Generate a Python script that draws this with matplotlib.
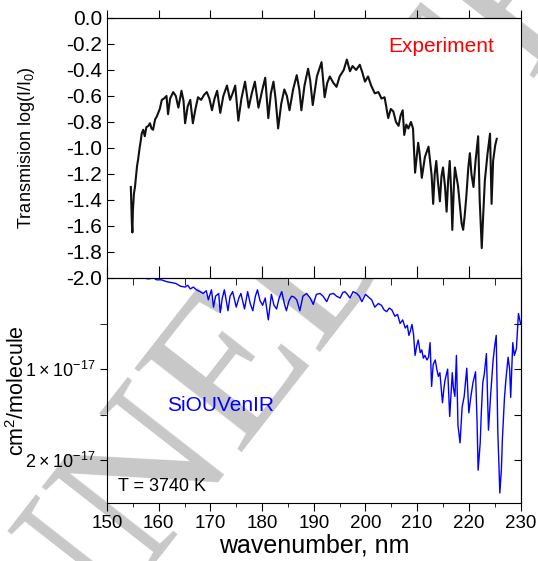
import numpy as np
import matplotlib
matplotlib.use("Agg")
import matplotlib.pyplot as plt
from matplotlib.ticker import MultipleLocator, FixedLocator

plt.rcParams['font.family'] = ['Liberation Sans', 'DejaVu Sans']
plt.rcParams['mathtext.default'] = 'regular'
plt.rcParams['axes.unicode_minus'] = False

# experiment: log(I/I0) vs wavelength (nm)
exp_nm = [154.6, 154.7, 154.8, 154.9, 155.0, 155.2, 155.4, 155.6, 155.8, 156.0,
          156.3, 156.5, 156.7, 157.0, 157.3, 157.6, 158.0, 158.3, 158.6, 158.9,
          159.3, 159.6, 159.9, 160.2, 160.6, 161.0, 161.5, 161.8, 162.2, 162.8,
          163.3, 163.8, 164.4, 164.8, 165.1, 165.6, 166.1, 166.6, 167.1, 167.6,
          168.2, 168.8, 169.3, 169.8, 170.3, 170.8, 171.3, 171.9, 172.5, 173.2,
          173.8, 174.3, 174.8, 175.4, 176.0, 176.7, 177.4, 178.0, 178.6, 179.3,
          180.0, 180.6, 181.2, 181.7, 182.2, 182.6, 183.1, 183.7, 184.3, 184.8,
          185.3, 186.0, 186.7, 187.2, 187.6, 188.2, 188.9, 189.3, 189.8, 190.6,
          191.5, 192.1, 192.6, 193.1, 193.8, 194.4, 195.0, 195.8, 196.4, 197.0,
          197.5, 198.2, 198.9, 199.4, 199.9, 200.5, 201.1, 201.8, 202.5, 203.1,
          203.7, 204.4, 204.9, 205.4, 205.9, 206.4, 206.8, 207.2, 207.5, 207.9,
          208.3, 208.8, 209.2, 209.6, 210.2, 210.5, 210.9, 211.5, 212.2, 212.5,
          212.8, 213.1, 213.4, 213.7, 214.0, 214.4, 214.7, 215.0, 215.4, 215.7,
          216.0, 216.3, 216.6, 216.8, 217.1, 217.3, 217.6, 217.9, 218.3, 218.6,
          218.9, 219.2, 219.5, 219.9, 220.2, 220.5, 220.9, 221.3, 221.8, 222.1,
          222.5, 222.8, 223.1, 223.6, 224.1, 224.4, 224.7, 225.1, 225.4]
exp_val = [-1.30, -1.45, -1.58, -1.65, -1.48, -1.35, -1.30, -1.22, -1.14, -1.09,
           -1.00, -0.95, -0.89, -0.86, -0.91, -0.84, -0.83, -0.81, -0.85, -0.86,
           -0.78, -0.76, -0.73, -0.70, -0.63, -0.62, -0.60, -0.74, -0.62, -0.57,
           -0.60, -0.69, -0.56, -0.64, -0.81, -0.68, -0.63, -0.81, -0.70, -0.61,
           -0.63, -0.59, -0.57, -0.62, -0.71, -0.62, -0.56, -0.73, -0.60, -0.52,
           -0.63, -0.58, -0.52, -0.79, -0.62, -0.49, -0.69, -0.58, -0.49, -0.69,
           -0.56, -0.46, -0.77, -0.58, -0.49, -0.62, -0.85, -0.66, -0.55, -0.60,
           -0.71, -0.55, -0.44, -0.55, -0.71, -0.52, -0.39, -0.48, -0.67, -0.45,
           -0.34, -0.61, -0.50, -0.45, -0.50, -0.53, -0.45, -0.40, -0.32, -0.41,
           -0.37, -0.40, -0.36, -0.42, -0.49, -0.45, -0.52, -0.58, -0.57, -0.62,
           -0.61, -0.77, -0.70, -0.72, -0.80, -0.83, -0.75, -0.71, -0.90, -0.82,
           -0.85, -0.80, -0.85, -1.19, -0.96, -1.05, -1.23, -1.07, -0.99, -1.10,
           -1.21, -1.43, -1.20, -1.10, -1.25, -1.41, -1.22, -1.15, -1.30, -1.49,
           -1.25, -1.10, -1.35, -1.63, -1.30, -1.15, -1.22, -1.29, -1.46, -1.58,
           -1.63, -1.52, -1.38, -1.15, -1.04, -1.20, -1.30, -1.10, -0.91, -1.40,
           -1.77, -1.50, -1.25, -1.05, -0.89, -1.43, -1.10, -0.98, -0.93]

# SiOUVenIR cross section, units of 1e-17 cm2/molecule
sim_nm = [157.0, 158.0, 159.0, 159.6, 160.5, 161.5, 162.4, 163.3, 164.2, 165.1,
          165.6, 166.1, 166.7, 167.3, 168.0, 168.6, 169.2, 169.6, 170.2, 170.6,
          171.0, 171.6, 171.9, 172.3, 172.7, 173.4, 173.8, 174.3, 175.0, 175.5,
          175.9, 176.6, 177.2, 177.7, 178.2, 178.7, 179.1, 179.6, 180.1, 180.6,
          181.2, 181.8, 182.3, 182.8, 183.3, 183.8, 184.3, 184.7, 185.2, 185.7,
          186.2, 186.7, 187.3, 187.9, 188.6, 189.3, 189.9, 190.5, 191.2, 191.8,
          192.5, 193.1, 193.8, 194.4, 195.1, 195.6, 196.0, 196.5, 197.0, 197.6,
          198.3, 198.8, 199.3, 200.0, 200.6, 201.2, 201.8, 202.5, 203.1, 203.6,
          204.1, 204.6, 205.1, 205.7, 206.2, 206.7, 207.2, 207.7, 208.1, 208.4,
          208.7, 209.0, 209.3, 209.6, 209.9, 210.2, 210.6, 210.9, 211.2, 211.5,
          211.9, 212.2, 212.5, 212.8, 213.1, 213.5, 213.8, 214.1, 214.4, 214.9,
          215.2, 215.4, 215.9, 216.3, 216.8, 217.0, 217.3, 217.6, 217.9, 218.3,
          218.7, 219.1, 219.6, 220.0, 220.4, 220.8, 221.3, 221.6, 221.8, 222.2,
          222.4, 222.7, 223.0, 223.4, 223.8, 224.2, 224.7, 225.0, 225.3, 225.6,
          226.0, 226.3, 226.5, 226.9, 227.2, 227.6, 227.9, 228.1, 228.5, 228.8,
          229.2, 229.6, 230.0]
sim_val = [0.00, 0.01, 0.00, 0.02, 0.02, 0.04, 0.05, 0.06, 0.09, 0.10,
           0.08, 0.12, 0.10, 0.13, 0.15, 0.17, 0.14, 0.24, 0.13, 0.32,
           0.20, 0.17, 0.38, 0.22, 0.13, 0.36, 0.20, 0.15, 0.32, 0.22,
           0.17, 0.34, 0.15, 0.28, 0.36, 0.20, 0.13, 0.25, 0.30, 0.22,
           0.46, 0.18, 0.30, 0.34, 0.22, 0.15, 0.28, 0.36, 0.25, 0.20,
           0.21, 0.24, 0.36, 0.20, 0.17, 0.22, 0.29, 0.18, 0.17, 0.20,
           0.26, 0.18, 0.17, 0.20, 0.22, 0.16, 0.15, 0.18, 0.22, 0.15,
           0.17, 0.20, 0.26, 0.18, 0.21, 0.24, 0.32, 0.28, 0.30, 0.35,
           0.37, 0.33, 0.35, 0.42, 0.40, 0.50, 0.46, 0.55, 0.52, 0.63,
           0.58, 0.51, 0.62, 0.85, 0.75, 0.68, 0.82, 0.79, 0.88, 0.85,
           0.90, 0.87, 0.71, 1.19, 0.95, 0.90, 1.00, 1.08, 1.04, 1.37,
           1.20, 1.12, 1.00, 1.52, 1.04, 1.20, 1.30, 0.85, 1.62, 1.81,
           1.42, 1.30, 0.99, 1.48, 1.30, 1.15, 1.03, 1.60, 2.11, 1.81,
           1.50, 1.15, 1.05, 0.83, 1.67, 1.30, 0.90, 0.75, 0.63, 1.67,
           2.36, 2.10, 1.76, 1.31, 1.10, 0.87, 1.00, 1.31, 0.71, 0.85,
           0.78, 0.39, 0.50]

top_ticks = [0.0, -0.2, -0.4, -0.6, -0.8, -1.0, -1.2, -1.4, -1.6, -1.8, -2.0]
x_ticks = [150, 160, 170, 180, 190, 200, 210, 220, 230]

fig = plt.figure(figsize=(5.38, 5.61), dpi=100)
ax1 = fig.add_axes([0.199, 0.5045, 0.7685, 0.4635])
ax2 = fig.add_axes([0.199, 0.1034, 0.7685, 0.4011])
ax1.set_facecolor('white')
ax2.set_facecolor('none')

# faint watermark behind the lower panel
fig.text(0.097, -0.23, 'UNEDITED', fontsize=150, family='Liberation Serif',
         color='#c8c8c8', rotation=52, rotation_mode='anchor',
         ha='left', va='baseline', zorder=-1)

# upper panel
ax1.plot(exp_nm, exp_val, color='#111111', lw=1.5)
ax1.set_xlim(150, 230)
ax1.set_ylim(-2.0, 0.0)
ax1.set_yticks(top_ticks)
ax1.set_yticklabels(['%.1f' % v for v in top_ticks])
ax1.set_xticks(x_ticks)
ax1.xaxis.set_minor_locator(MultipleLocator(5))
ax1.tick_params(axis='y', direction='in', length=5, labelsize=15, right=False)
ax1.tick_params(axis='x', which='major', direction='in', length=9,
                bottom=True, top=False, labelbottom=False)
ax1.tick_params(axis='x', which='minor', direction='out', length=5,
                bottom=True, top=False)
top_sec = ax1.secondary_xaxis('top')
top_sec.set_xticks(x_ticks)
top_sec.tick_params(direction='out', length=6, labeltop=False)
ax1.set_ylabel('Transmision log(I/I$_0$)', fontsize=13)
ax1.yaxis.set_label_coords(-0.17, 0.5)
ax1.text(214.6, -0.22, 'Experiment', color='red', fontsize=15,
         ha='center', va='center')

# lower panel
ax2.plot(sim_nm, np.array(sim_val) * 1e-17, color='#0000ff', lw=1.0)
ax2.set_xlim(150, 230)
ax2.set_ylim(2.47e-17, 0)
ax2.set_xticks(x_ticks)
ax2.xaxis.set_minor_locator(MultipleLocator(5))
ax2.tick_params(axis='x', which='major', direction='out', length=6,
                labelsize=13.5, top=False, pad=3)
ax2.tick_params(axis='x', which='minor', direction='out', length=3, top=False)
ax2.set_yticks([1e-17, 2e-17])
ax2.set_yticklabels([r'$1\times10^{-17}$', r'$2\times10^{-17}$'])
ax2.yaxis.set_minor_locator(FixedLocator([0.5e-17, 1.5e-17]))
ax2.tick_params(axis='y', which='both', direction='out', length=5,
                labelsize=13, right=False)
right_sec = ax2.secondary_yaxis('right')
right_sec.set_yticks([0.5e-17, 1e-17, 1.5e-17, 2e-17])
right_sec.tick_params(direction='in', length=5, labelright=False)
ax2.set_ylabel('cm$^2$/molecule', fontsize=15.5)
ax2.yaxis.set_label_coords(-0.19, 0.5)
ax2.set_xlabel('wavenumber, nm', fontsize=18, labelpad=1)
ax2.text(172.05, 1.40e-17, 'SiOUVenIR', color='#0000ff', fontsize=15,
         ha='center', va='center')
ax2.text(152.1, 2.29e-17, 'T = 3740 K', fontsize=13, ha='left', va='center')

fig.savefig('out.png', dpi=100)
